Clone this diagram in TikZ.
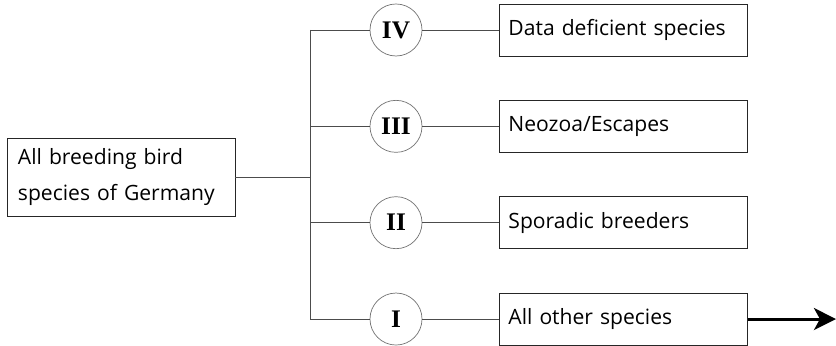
\documentclass[tikz,border=0pt]{standalone}
\usepackage{fontspec}
\setsansfont{Open Sans}
\newfontfamily\numfont{Liberation Serif}
\usetikzlibrary{positioning,arrows.meta}

\begin{document}
\begin{tikzpicture}[x=0.025cm,y=-0.025cm,node distance=1.925cm,
	main node/.style={draw=black!85, line width=0.6pt, inner xsep=0.275cm, text width=5.15cm,
		minimum height=1.95cm, align=left, font=\sffamily\fontsize{15}{25}\selectfont},
	class node/.style={circle, draw=black!55, line width=0.5pt, minimum size=1.3cm, inner sep=0pt,
		outer sep=0pt, font=\numfont\bfseries\fontsize{18}{20}\selectfont},
	sub node/.style={draw=black!85, line width=0.6pt, inner xsep=0.225cm, text width=5.75cm,
		minimum height=1.3cm, align=left, font=\sffamily\fontsize{15}{18}\selectfont},
	link/.style={draw=black!70, line width=0.6pt}]

	\useasboundingbox (0,0) rectangle (836,346);

	\node[main node](all) at (121,177){All breeding bird\\species of Germany};
	\coordinate (split) at (310,177);

	\node[class node](c4) at (396,30){IV};
		\node[sub node](b4)[right = of c4]{Data deficient species};
	\node[class node](c3)[below = 1.108cm of c4]{III};
		\node[sub node](b3)[right = of c3]{Neozoa/Escapes};
	\node[class node](c2)[below = 1.108cm of c3]{II};
		\node[sub node](b2)[right = of c2]{Sporadic breeders};
	\node[class node](c1)[below = 1.108cm of c2]{I};
		\node[sub node](b1)[right = of c1]{All other species};
	\coordinate[right = 2.2cm of b1.east] (out);

	\path[link]
	(all.east) edge (split)
	(c4.west) edge (c4.west -| split)
	(c3.west) edge (c3.west -| split)
	(c2.west) edge (c2.west -| split)
	(c1.west) edge (c1.west -| split)
	(c4) edge (b4)
	(c3) edge (b3)
	(c2) edge (b2)
	(c1) edge (b1);

	\draw[link](c4.west -| split)--(c1.west -| split);
	\draw[line width=2.1pt, -{Stealth[length=0.55cm,width=0.55cm,inset=0.15cm]}](b1.east)--(out);
\end{tikzpicture}
\end{document}
